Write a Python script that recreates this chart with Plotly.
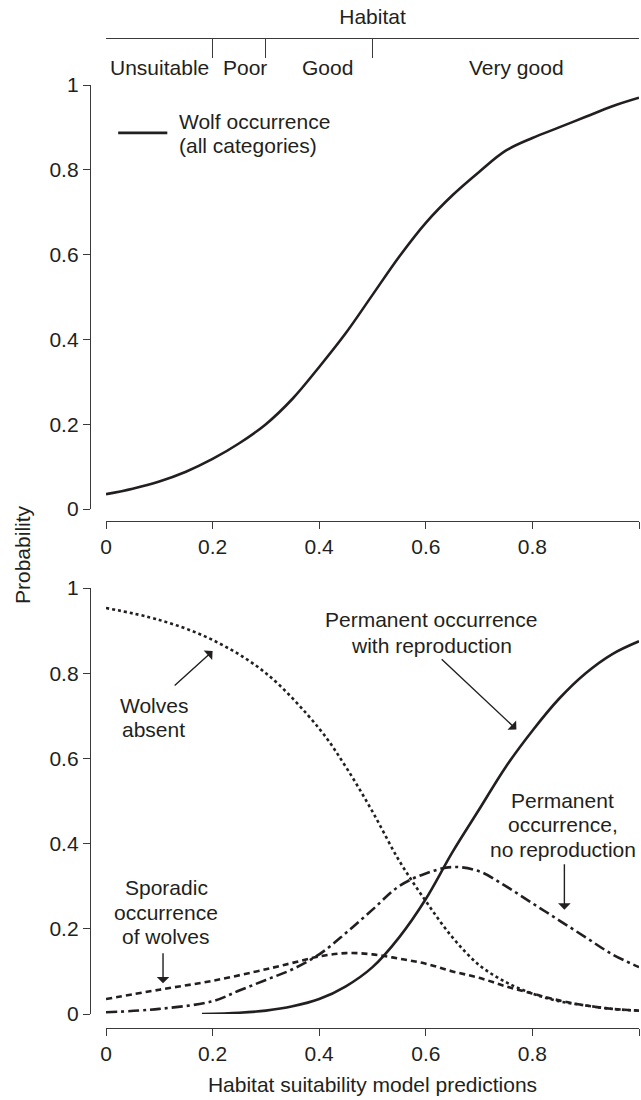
import plotly.graph_objects as go

# ---------------- data ----------------
x_top = [0, 0.05, 0.1, 0.15, 0.2, 0.25, 0.3, 0.35, 0.4, 0.45, 0.5, 0.55, 0.6, 0.65, 0.7, 0.75, 0.8, 0.85, 0.9, 0.95, 1.0]
wolf_occurrence = [0.035, 0.048, 0.065, 0.088, 0.118, 0.155, 0.2, 0.26, 0.335, 0.415, 0.505, 0.595, 0.675, 0.74, 0.795, 0.845, 0.875, 0.9, 0.925, 0.95, 0.97]

x_absent = [0, 0.1, 0.2, 0.3, 0.4, 0.45, 0.5, 0.55, 0.6, 0.65, 0.7, 0.75, 0.8, 0.85, 0.9, 0.95, 1.0]
wolves_absent = [0.953, 0.925, 0.878, 0.8, 0.67, 0.58, 0.475, 0.36, 0.265, 0.18, 0.115, 0.075, 0.048, 0.03, 0.02, 0.012, 0.008]

x_repro = [0.18, 0.25, 0.3, 0.35, 0.4, 0.45, 0.5, 0.55, 0.6, 0.65, 0.7, 0.75, 0.8, 0.85, 0.9, 0.95, 1.0]
perm_repro = [0.0, 0.003, 0.008, 0.018, 0.035, 0.065, 0.11, 0.18, 0.27, 0.38, 0.48, 0.58, 0.665, 0.74, 0.8, 0.845, 0.875]

x_norepro = [0, 0.1, 0.2, 0.25, 0.3, 0.35, 0.4, 0.45, 0.5, 0.55, 0.6, 0.65, 0.7, 0.75, 0.8, 0.85, 0.9, 0.95, 1.0]
perm_norepro = [0.004, 0.012, 0.03, 0.055, 0.08, 0.105, 0.14, 0.19, 0.245, 0.3, 0.33, 0.345, 0.335, 0.3, 0.26, 0.22, 0.18, 0.14, 0.11]

x_spor = [0, 0.1, 0.2, 0.3, 0.35, 0.4, 0.45, 0.5, 0.55, 0.6, 0.65, 0.7, 0.75, 0.8, 0.85, 0.9, 0.95, 1.0]
sporadic = [0.035, 0.057, 0.078, 0.105, 0.12, 0.135, 0.143, 0.14, 0.13, 0.118, 0.1, 0.085, 0.065, 0.048, 0.032, 0.02, 0.012, 0.008]

tick_vals = [0, 0.2, 0.4, 0.6, 0.8, 1]
tick_text = ["0", "0.2", "0.4", "0.6", "0.8", "1"]

habitat_bounds = [0, 0.2, 0.3, 0.5, 1]
habitat_labels = ["Unsuitable", "Poor", "Good", "Very good"]
habitat_label_x = [0.1, 0.26, 0.415, 0.77]

# ---------------- layout geometry ----------------
W, H = 641, 1100
INK = "#231f20"
AX = "#3a3a3a"
FONT = "Liberation Sans, Arial, Helvetica, sans-serif"
FS = 21

def px_x(p):
    return p / W

def px_y(p):
    return 1 - p / H

x_dom = [px_x(106), px_x(639)]
top_dom = [px_y(509), px_y(85)]
bot_dom = [px_y(1014), px_y(588)]

fig = go.Figure()

fig.add_trace(go.Scatter(x=x_top, y=wolf_occurrence, mode="lines", line=dict(color=INK, width=2.6, shape="spline"),
                         xaxis="x", yaxis="y", showlegend=False, hoverinfo="skip"))
# invisible carrier for the habitat axis
fig.add_trace(go.Scatter(x=[0, 1], y=[None, None], mode="lines", xaxis="x3", yaxis="y", showlegend=False, hoverinfo="skip"))

fig.add_trace(go.Scatter(x=x_absent, y=wolves_absent, mode="lines", line=dict(color=INK, width=2.6, dash="dot", shape="spline"),
                         xaxis="x2", yaxis="y2", showlegend=False))
fig.add_trace(go.Scatter(x=x_repro, y=perm_repro, mode="lines", line=dict(color=INK, width=2.6, shape="spline"),
                         xaxis="x2", yaxis="y2", showlegend=False))
fig.add_trace(go.Scatter(x=x_norepro, y=perm_norepro, mode="lines", line=dict(color=INK, width=2.6, dash="11px,4px,3px,4px", shape="spline"),
                         xaxis="x2", yaxis="y2", showlegend=False))
fig.add_trace(go.Scatter(x=x_spor, y=sporadic, mode="lines", line=dict(color=INK, width=2.6, dash="6px,4px", shape="spline"),
                         xaxis="x2", yaxis="y2", showlegend=False))

axis_common = dict(range=[0, 1], showgrid=False, zeroline=False, showline=True, linecolor=AX, linewidth=1.3,
                   ticks="outside", ticklen=7, tickwidth=1.3, tickcolor=AX, tickvals=tick_vals, ticktext=tick_text,
                   tickfont=dict(family=FONT, size=FS, color=INK), automargin=False, fixedrange=True)

fig.update_layout(
    width=W, height=H, margin=dict(l=0, r=0, t=0, b=0),
    paper_bgcolor="white", plot_bgcolor="white",
    font=dict(family=FONT, size=FS, color=INK),
    xaxis=dict(axis_common, domain=x_dom, anchor="free", position=px_y(521)),
    yaxis=dict(axis_common, domain=top_dom, anchor="free", position=px_x(90)),
    xaxis2=dict(axis_common, domain=x_dom, anchor="free", position=px_y(1028),
                title=dict(text="Habitat suitability model predictions", font=dict(family=FONT, size=FS, color=INK), standoff=12)),
    yaxis2=dict(axis_common, domain=bot_dom, anchor="free", position=px_x(90)),
    xaxis3=dict(range=[0, 1], domain=x_dom, overlaying="x", side="top", anchor="free", position=px_y(38),
                showgrid=False, zeroline=False, showline=True, linecolor=AX, linewidth=1.3,
                ticks="inside", ticklen=19, tickwidth=1.3, tickcolor=AX, tickvals=habitat_bounds,
                showticklabels=False, automargin=False, fixedrange=True,
                title=dict(text="Habitat", font=dict(family=FONT, size=FS, color=INK), standoff=6)),
)

ann = []
for lab, xc in zip(habitat_labels, habitat_label_x):
    ann.append(dict(text=lab, x=xc, y=px_y(67), xref="x3", yref="paper", showarrow=False,
                    font=dict(family=FONT, size=FS, color=INK), xanchor="center", yanchor="middle"))

def text_lines(lines, x, ys, xref, yref, xanchor="center"):
    for t, y in zip(lines, ys):
        ann.append(dict(text=t, x=x, y=y, xref=xref, yref=yref, showarrow=False,
                        xanchor=xanchor, yanchor="middle", font=dict(family=FONT, size=FS, color=INK)))

# legend-like sample line and label in the top panel
ann.append(dict(text="", x=0.115, y=0.887, ax=0.02, ay=0.887, xref="x", yref="y", axref="x", ayref="y",
                showarrow=True, arrowhead=0, arrowwidth=2.6, arrowcolor=INK, standoff=0, startstandoff=0))
text_lines(["Wolf occurrence", "(all categories)"], 0.133, [0.913, 0.858], "x", "y", xanchor="left")

def arrow(x0, y0, x1, y1):
    ann.append(dict(text="", x=x1, y=y1, ax=x0, ay=y0, xref="x2", yref="y2", axref="x2", ayref="y2",
                    showarrow=True, arrowhead=1, arrowsize=1.5, arrowwidth=1.4, arrowcolor=INK,
                    standoff=0, startstandoff=0))

text_lines(["Permanent occurrence", "with reproduction"], 0.61, [0.925, 0.866], "x2", "y2")
arrow(0.627, 0.836, 0.77, 0.668)
text_lines(["Wolves", "absent"], 0.09, [0.725, 0.667], "x2", "y2")
arrow(0.126, 0.768, 0.2, 0.852)
text_lines(["Permanent", "occurrence,", "no reproduction"], 0.857, [0.502, 0.444, 0.385], "x2", "y2")
arrow(0.86, 0.355, 0.86, 0.245)
text_lines(["Sporadic", "occurrence", "of wolves"], 0.113, [0.298, 0.239, 0.181], "x2", "y2")
arrow(0.107, 0.146, 0.107, 0.072)

# y-axis title shared by both panels
ann.append(dict(text="Probability", x=px_x(22), y=px_y(555), xref="paper", yref="paper", showarrow=False,
                textangle=-90, font=dict(family=FONT, size=FS, color=INK), xanchor="center", yanchor="middle"))

fig.update_layout(annotations=ann)

fig.write_html("out.html")
